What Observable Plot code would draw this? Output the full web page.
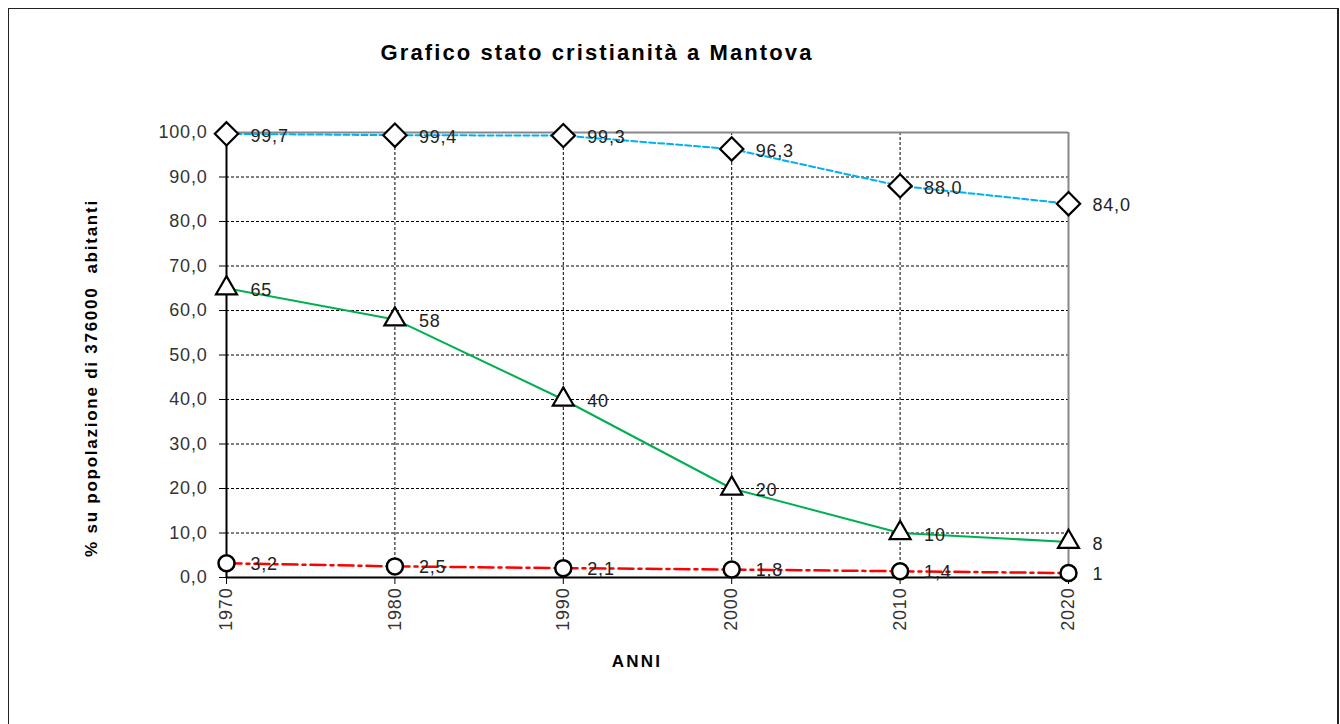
<!DOCTYPE html>
<html>
<head>
<meta charset="utf-8">
<script src="https://cdn.jsdelivr.net/npm/d3@7"></script>
<script src="https://cdn.jsdelivr.net/npm/@observablehq/plot@0.6"></script>
<style>
  html, body { margin: 0; padding: 0; background: #fff; }
  body { width: 1340px; height: 724px; position: relative; overflow: hidden; font-family: "Liberation Sans", Arial, sans-serif; }
  #frame { position: absolute; left: 8px; top: 8px; width: 1331px; height: 740px; border: 1px solid #222; border-bottom: none; box-sizing: border-box; border-right-width: 2px; }
  #chart { position: absolute; left: 0; top: 0; }
  #chart svg text { letter-spacing: 0.8px; }
  .title { position: absolute; left: 597px; top: 40px; transform: translateX(-50%); font-weight: bold; font-size: 22px; letter-spacing: 2.1px; color: #000; white-space: nowrap; }
  .xlabel { position: absolute; left: 637px; top: 652px; transform: translateX(-50%); font-weight: bold; font-size: 17px; letter-spacing: 2.2px; color: #000; }
  .ylabel { position: absolute; left: 92px; top: 378px; transform: translate(-50%, -50%) rotate(-90deg); font-weight: bold; font-size: 17px; letter-spacing: 1.75px; color: #000; white-space: nowrap; }
</style>
</head>
<body>
<div id="frame"></div>
<div id="chart"></div>
<div class="title">Grafico stato cristianità a Mantova</div>
<div class="xlabel">ANNI</div>
<div class="ylabel">% su popolazione di 376000&nbsp; abitanti</div>
<script>
const years = [1970, 1980, 1990, 2000, 2010, 2020];
const battezzati = [99.7, 99.4, 99.3, 96.3, 88.0, 84.0];
const cresimati = [65, 58, 40, 20, 10, 8];
const praticanti = [3.2, 2.5, 2.1, 1.8, 1.4, 1];
const battezzatiLabels = ["99,7", "99,4", "99,3", "96,3", "88,0", "84,0"];
const cresimatiLabels = ["65", "58", "40", "20", "10", "8"];
const praticantiLabels = ["3,2", "2,5", "2,1", "1,8", "1,4", "1"];
const yTicks = [0, 10, 20, 30, 40, 50, 60, 70, 80, 90, 100];

const blue = years.map((x, i) => ({x, y: battezzati[i], label: battezzatiLabels[i]}));
const green = years.map((x, i) => ({x, y: cresimati[i], label: cresimatiLabels[i]}));
const red = years.map((x, i) => ({x, y: praticanti[i], label: praticantiLabels[i]}));

const fmt = d => d.toFixed(1).replace(".", ",");
const font = "Liberation Sans, Arial, sans-serif";

const chart = Plot.plot({
  width: 1340,
  height: 724,
  marginLeft: 226,
  marginRight: 272,
  marginTop: 132,
  marginBottom: 147,
  style: {fontFamily: font, fontSize: "18px", color: "#333", background: "transparent", overflow: "visible"},
  x: {type: "linear", domain: [1970, 2020], ticks: years, label: null},
  y: {domain: [0, 100], ticks: yTicks, label: null},
  marks: [
    // grid
    Plot.ruleY(yTicks.filter(d => d > 0 && d < 100), {stroke: "#000", strokeWidth: 1, strokeDasharray: "3,2"}),
    Plot.ruleX(years.filter(d => d > 1970 && d < 2020), {stroke: "#000", strokeWidth: 1, strokeDasharray: "3,2"}),
    // top & right gray borders
    Plot.ruleY([100], {stroke: "#888", strokeWidth: 2}),
    Plot.ruleX([2020], {stroke: "#888", strokeWidth: 2}),
    // axes lines
    Plot.ruleX([1970], {stroke: "#000", strokeWidth: 2}),
    Plot.ruleY([0], {stroke: "#000", strokeWidth: 2}),
    Plot.axisY({ticks: yTicks, tickFormat: fmt, tickSize: 7, tickPadding: 12, stroke: "#000", fill: "#333", fontSize: 18}),
    Plot.axisX({ticks: years, tickFormat: d => String(d), tickSize: 7, tickRotate: -90, tickPadding: 3, stroke: "#000", fill: "#333", fontSize: 18}),
    // lines
    Plot.line(blue, {x: "x", y: "y", stroke: "#00B0F0", strokeWidth: 2, strokeDasharray: "6,3"}),
    Plot.line(green, {x: "x", y: "y", stroke: "#00B050", strokeWidth: 2}),
    Plot.line(red, {x: "x", y: "y", stroke: "#FF0000", strokeWidth: 2.5, strokeDasharray: "15,5,3,5"}),
    // markers
    Plot.dot(blue, {x: "x", y: "y", symbol: "diamond2", r: 10.5, stroke: "#000", strokeWidth: 2.2, fill: "#fff"}),
    Plot.dot(green, {x: "x", y: "y", symbol: "triangle2", r: 10, stroke: "#000", strokeWidth: 2.2, fill: "#fff"}),
    Plot.dot(red, {x: "x", y: "y", symbol: "circle", r: 8, stroke: "#000", strokeWidth: 2.5, fill: "#fff"}),
    // labels
    Plot.text(blue, {x: "x", y: "y", text: "label", dx: 24, dy: 2, textAnchor: "start", fill: "#222", fontSize: 18}),
    Plot.text(green, {x: "x", y: "y", text: "label", dx: 24, dy: 2, textAnchor: "start", fill: "#222", fontSize: 18}),
    Plot.text(red, {x: "x", y: "y", text: "label", dx: 24, dy: 1, textAnchor: "start", fill: "#222", fontSize: 18})
  ]
});
document.getElementById("chart").appendChild(chart);
</script>
</body>
</html>
